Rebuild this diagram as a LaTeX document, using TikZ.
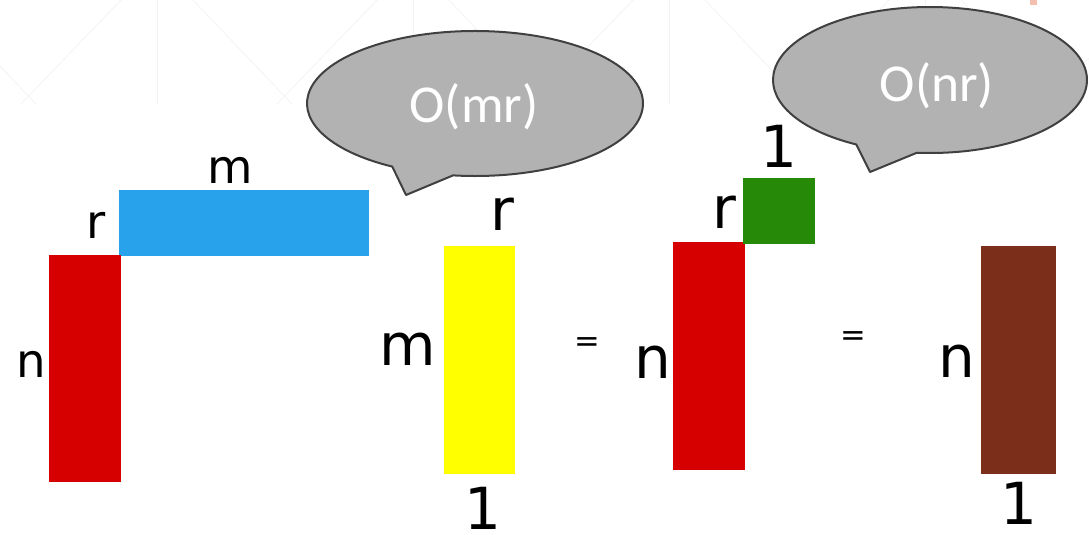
\documentclass[tikz,border=0pt]{standalone}
\usepackage{fontspec}
\usetikzlibrary{calc}
\newfontfamily\dvfont{DejaVu Sans}
\newfontfamily\cbfont{Carlito}
\definecolor{mblue}{HTML}{29A2EC}
\definecolor{mred}{HTML}{D70000}
\definecolor{myellow}{HTML}{FFFF00}
\definecolor{mgreen}{HTML}{268A08}
\definecolor{mbrown}{HTML}{7B2E19}
\definecolor{cfill}{HTML}{B2B2B2}
\definecolor{cline}{HTML}{404040}
\definecolor{bgline}{HTML}{F3F3F3}
\definecolor{pinkmark}{HTML}{F5BFB0}
\tikzset{
  smalllab/.style={inner sep=0pt, anchor=base, font=\dvfont\fontsize{35}{40}\selectfont},
  biglab/.style={inner sep=0pt, anchor=base, font=\dvfont\fontsize{43.5}{50}\selectfont},
  eqlab/.style={inner sep=0pt, anchor=center, font=\dvfont\fontsize{23}{28}\selectfont},
  callout/.style={fill=cfill, draw=cline, line width=1.5pt, line join=round},
  calltext/.style={inner sep=0pt, anchor=center, text=white, font=\cbfont\fontsize{40}{46}\selectfont},
  bgstroke/.style={draw=bgline, line width=0.6pt}
}
\begin{document}
\begin{tikzpicture}[x=0.75pt,y=-0.75pt]
\useasboundingbox (0,0) rectangle (1089,535);
\clip (0,0) rectangle (1089,535);
% faint background pattern
\foreach \c in {28,284,540,796,1052}{
  \draw[bgstroke] (\c-91,0) -- (\c+8,104);
  \draw[bgstroke] (\c+93,0) -- (\c-7,104);
  \draw[bgstroke] (\c+129,0) -- (\c+129,104);
}
\fill[pinkmark] (1030,0) rectangle (1037,5);
% blocks
\fill[mblue] (119,190) rectangle (369,256);
\fill[mred] (49,255) rectangle (121,482);
\fill[myellow] (444,246) rectangle (515,474);
\fill[mred] (673,242) rectangle (745,470);
\fill[mgreen] (743,178) rectangle (815,244);
\fill[mbrown] (981,246) rectangle (1056,474);
% labels
\node[smalllab] (lm1) at (230,183) {m};
\node[smalllab] (lr1) at (96.5,238) {r};
\node[smalllab] (ln1) at (31,377) {n};
\node[biglab] (lr2) at (502.5,230) {r};
\node[biglab] (lm2) at (407.5,365) {m};
\node[biglab] (l12) at (482.5,529) {1};
\node[eqlab] (eq1) at (587.5,344.5) {=};
\node[biglab] (ln3) at (652.5,378) {n};
\node[biglab] (l13) at (778.5,167) {1};
\node[biglab] (lr3) at (724.5,228) {r};
\node[eqlab] (eq2) at (853.5,338.5) {=};
\node[biglab] (ln4) at (957,377) {n};
\node[biglab] (l14) at (1019,524) {1};
% callouts
\coordinate (c1) at (475,103.5);
\coordinate (tip1) at (406,195);
\draw[callout] ($(c1)+(119.5:168 and 72.5)$) -- (tip1) -- ($(c1)+(97.5:168 and 72.5)$)
  arc[start angle=97.5, end angle=-240.5, x radius=168, y radius=72.5] -- cycle;
\node[calltext] (t1) at (474,107) {O(mr)};
\coordinate (c2) at (930,80);
\coordinate (tip2) at (870,172);
\draw[callout] ($(c2)+(118:157 and 73)$) -- (tip2) -- ($(c2)+(94.8:157 and 73)$)
  arc[start angle=94.8, end angle=-242, x radius=157, y radius=73] -- cycle;
\node[calltext] (t2) at (937,86) {O(nr)};
\end{tikzpicture}
\end{document}
